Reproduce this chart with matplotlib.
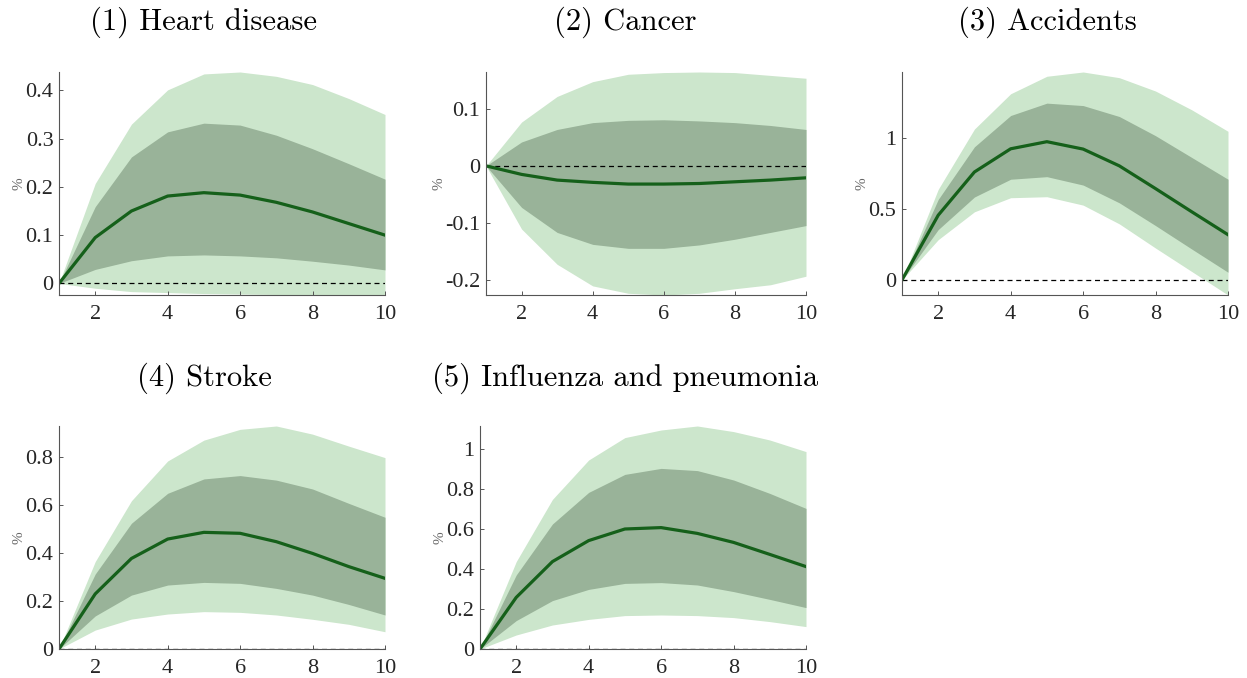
import numpy as np
import matplotlib.pyplot as plt

plt.rcParams['font.family'] = ['Liberation Serif', 'DejaVu Serif']
plt.rcParams['axes.unicode_minus'] = False

# horizons
h = [1, 2, 3, 4, 5, 6, 7, 8, 9, 10]

titles = ['(1) Heart disease', '(2) Cancer', '(3) Accidents',
          '(4) Stroke', '(5) Influenza and pneumonia']

# point estimates
heart = [0, 0.095, 0.150, 0.181, 0.188, 0.183, 0.168, 0.148, 0.124, 0.100]
cancer = [0, -0.015, -0.025, -0.029, -0.032, -0.032, -0.031, -0.028, -0.025, -0.021]
accid = [0, 0.455, 0.759, 0.922, 0.972, 0.920, 0.802, 0.642, 0.479, 0.318]
stroke = [0, 0.230, 0.378, 0.459, 0.487, 0.483, 0.448, 0.399, 0.344, 0.295]
flu = [0, 0.258, 0.437, 0.542, 0.600, 0.607, 0.578, 0.533, 0.473, 0.412]

# inner band (upper / lower)
heart_in_hi = [0, 0.159, 0.262, 0.314, 0.332, 0.328, 0.307, 0.279, 0.248, 0.216]
heart_in_lo = [0, 0.029, 0.047, 0.057, 0.059, 0.057, 0.053, 0.046, 0.038, 0.028]
cancer_in_hi = [0, 0.042, 0.064, 0.076, 0.080, 0.081, 0.079, 0.076, 0.071, 0.064]
cancer_in_lo = [0, -0.073, -0.117, -0.138, -0.145, -0.145, -0.139, -0.129, -0.117, -0.105]
accid_in_hi = [0, 0.566, 0.936, 1.156, 1.243, 1.226, 1.149, 1.014, 0.861, 0.708]
accid_in_lo = [0, 0.354, 0.583, 0.708, 0.726, 0.667, 0.542, 0.382, 0.217, 0.054]
stroke_in_hi = [0, 0.313, 0.525, 0.650, 0.710, 0.724, 0.705, 0.668, 0.608, 0.550]
stroke_in_lo = [0, 0.138, 0.225, 0.267, 0.278, 0.274, 0.253, 0.225, 0.186, 0.142]
flu_in_hi = [0, 0.370, 0.625, 0.783, 0.873, 0.903, 0.892, 0.845, 0.778, 0.703]
flu_in_lo = [0, 0.142, 0.242, 0.298, 0.328, 0.332, 0.320, 0.287, 0.248, 0.207]

# outer band (upper / lower)
heart_out_hi = [0, 0.207, 0.330, 0.401, 0.434, 0.438, 0.429, 0.412, 0.383, 0.350]
heart_out_lo = [0, -0.010, -0.017, -0.019, -0.021, -0.022, -0.023, -0.023, -0.024, -0.024]
cancer_out_hi = [0, 0.077, 0.122, 0.148, 0.161, 0.164, 0.165, 0.164, 0.159, 0.154]
cancer_out_lo = [0, -0.111, -0.173, -0.211, -0.224, -0.227, -0.224, -0.216, -0.209, -0.194]
accid_out_hi = [0, 0.637, 1.061, 1.309, 1.432, 1.462, 1.422, 1.328, 1.196, 1.045]
accid_out_lo = [0, 0.283, 0.479, 0.578, 0.585, 0.526, 0.394, 0.224, 0.059, -0.106]
stroke_out_hi = [0, 0.365, 0.619, 0.785, 0.872, 0.917, 0.931, 0.897, 0.847, 0.799]
stroke_out_lo = [0, 0.079, 0.125, 0.146, 0.156, 0.153, 0.142, 0.124, 0.103, 0.072]
flu_out_hi = [0, 0.437, 0.748, 0.945, 1.057, 1.095, 1.115, 1.087, 1.045, 0.987]
flu_out_lo = [0, 0.070, 0.120, 0.148, 0.167, 0.170, 0.167, 0.157, 0.137, 0.112]

yticks = [[0, 0.1, 0.2, 0.3, 0.4],
          [-0.2, -0.1, 0, 0.1],
          [0, 0.5, 1],
          [0, 0.2, 0.4, 0.6, 0.8],
          [0, 0.2, 0.4, 0.6, 0.8, 1]]
yticklabels = [['0', '0.1', '0.2', '0.3', '0.4'],
               ['-0.2', '-0.1', '0', '0.1'],
               ['0', '0.5', '1'],
               ['0', '0.2', '0.4', '0.6', '0.8'],
               ['0', '0.2', '0.4', '0.6', '0.8', '1']]

mid = [heart, cancer, accid, stroke, flu]
in_hi = [heart_in_hi, cancer_in_hi, accid_in_hi, stroke_in_hi, flu_in_hi]
in_lo = [heart_in_lo, cancer_in_lo, accid_in_lo, stroke_in_lo, flu_in_lo]
out_hi = [heart_out_hi, cancer_out_hi, accid_out_hi, stroke_out_hi, flu_out_hi]
out_lo = [heart_out_lo, cancer_out_lo, accid_out_lo, stroke_out_lo, flu_out_lo]

W, H = 1247, 678
# axes boxes in pixels: left, right, top, bottom
boxes = [(59, 385, 72, 295), (486, 806, 72, 295), (902, 1228, 72, 295),
         (59, 385, 426, 649), (480, 806, 426, 649)]
# title centres in pixels (x, y)
title_pos = [(204, 22), (625, 22), (1047, 22), (204, 378), (625, 378)]

fig = plt.figure(figsize=(W / 100, H / 100), dpi=100)

for i in range(5):
    l, r, t, b = boxes[i]
    ax = fig.add_axes([l / W, 1 - b / H, (r - l) / W, (b - t) / H])
    ax.fill_between(h, out_lo[i], out_hi[i], color='#cce6cc', linewidth=0)
    ax.fill_between(h, in_lo[i], in_hi[i], color='#99b399', linewidth=0)
    ax.axhline(0, color='black', linestyle='--', linewidth=0.9, dashes=(4, 3))
    ax.plot(h, mid[i], color='#15601a', linewidth=2.3)
    ax.set_xlim(1, 10)
    ax.set_ylim(min(out_lo[i]), max(out_hi[i]))
    ax.set_xticks([2, 4, 6, 8, 10])
    ax.set_yticks(yticks[i])
    ax.set_yticklabels(yticklabels[i])
    for s in ['top', 'right']:
        ax.spines[s].set_visible(False)
    for s in ['left', 'bottom']:
        ax.spines[s].set_color('#555555')
        ax.spines[s].set_linewidth(0.8)
    ax.tick_params(direction='in', length=3, width=0.7, color='#555555',
                   labelsize=16, labelcolor='#262626')
    ax.tick_params(axis='x', pad=7)
    ax.tick_params(axis='y', pad=4)
    ax.set_ylabel('%', fontsize=11, color='#666666', labelpad=0)
    tx, ty = title_pos[i]
    fig.text(tx / W, 1 - ty / H, titles[i], family='cmr10', fontsize=22,
             ha='center', va='center')

fig.savefig('out.png', dpi=100)
